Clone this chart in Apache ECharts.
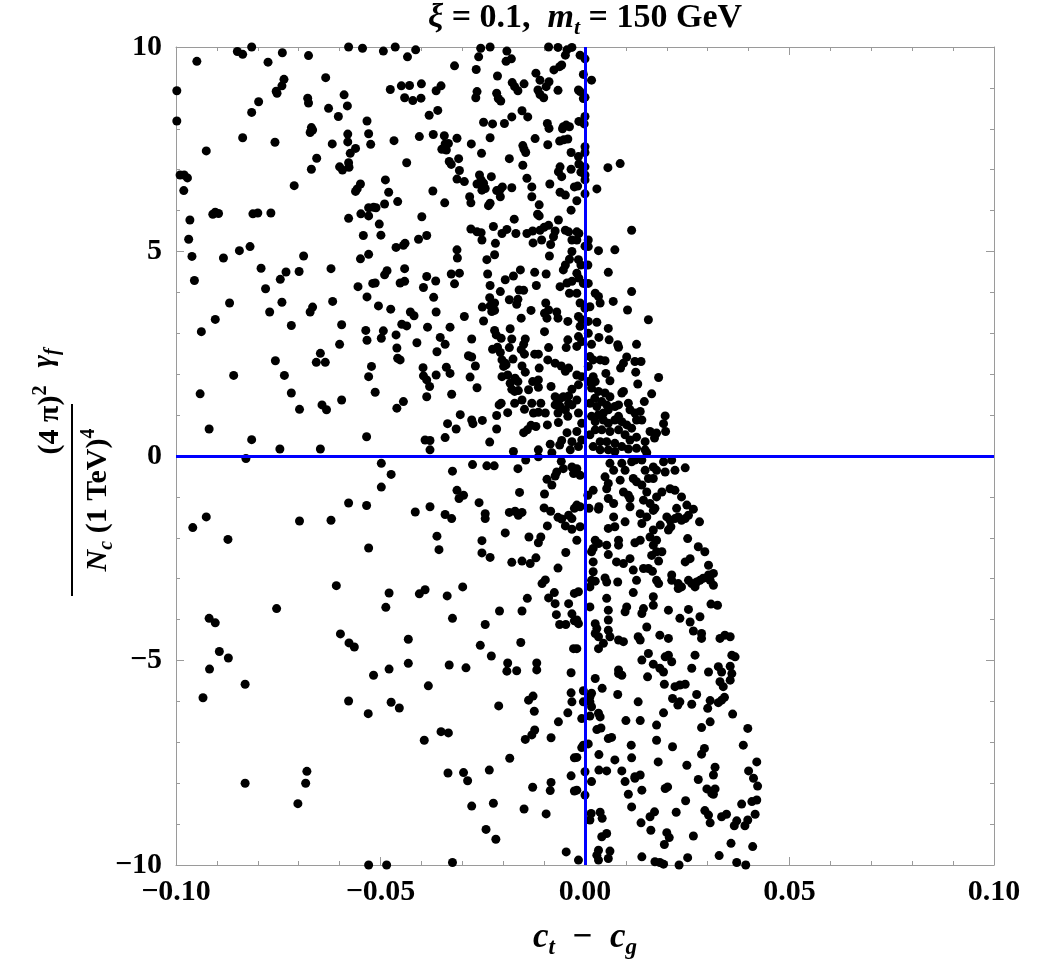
<!DOCTYPE html>
<html>
<head>
<meta charset="utf-8">
<script src="https://cdn.jsdelivr.net/npm/echarts@6/dist/echarts.min.js"></script>
<style>html,body{margin:0;padding:0;background:#fff}#chart{width:1042px;height:959px}</style>
</head>
<body>
<div id="chart"></div>
<script>
// x = c_t - c_g, y = (4 pi)^2/(N_c (1 TeV)^4) gamma_f
const xTicks = [-0.10, -0.05, 0.00, 0.05, 0.10];
const yTicks = [-10, -5, 0, 5, 10];

const pointsLeftTop = [[-0.0815,10.0],[-0.0850,9.89],[-0.0837,9.82],[-0.0740,9.86],[-0.0775,9.63],[-0.0949,9.65],[-0.0676,9.79],[-0.0578,10.0],[-0.0544,9.97],[-0.0998,8.93],[-0.0998,8.19],[-0.0736,9.21],[-0.0741,9.05],[-0.0755,8.92],[-0.0753,8.87],[-0.0798,8.66],[-0.0815,8.40],[-0.0678,8.75],[-0.0676,8.63],[-0.0634,9.25],[-0.0589,8.83],[-0.0581,8.56],[-0.0627,8.50],[-0.0603,8.30],[-0.0533,8.19],[-0.0529,7.88],[-0.0524,7.62],[-0.0669,8.03],[-0.0666,7.97],[-0.0672,7.91],[-0.0580,7.87],[-0.0580,7.68],[-0.0618,7.63],[-0.0561,7.52],[-0.0574,7.40],[-0.0578,7.17],[-0.0577,7.06],[-0.0600,7.07],[-0.0593,6.99],[-0.0656,7.28],[-0.0669,7.01],[-0.0837,7.78],[-0.0758,7.67],[-0.0926,7.46],[-0.0990,6.87],[-0.0980,6.87],[-0.0972,6.80],[-0.0981,6.49],[-0.0711,6.61],[-0.0549,6.65],[-0.0557,6.53],[-0.0561,6.47],[-0.0904,5.96],[-0.0896,5.93],[-0.0910,5.91],[-0.0966,5.77],[-0.0812,5.92],[-0.0800,5.94],[-0.0768,5.94],[-0.0578,5.81],[-0.0548,5.92],[-0.0529,6.07],[-0.0517,6.08],[-0.0529,5.87],[-0.0969,5.30],[-0.0819,5.12],[-0.0845,5.02],[-0.0542,5.39],
[-0.0961,4.88],[-0.0884,4.84],[-0.0955,4.29],[-0.0792,4.59],[-0.0731,4.50],[-0.0745,4.32],[-0.0699,4.51],[-0.0688,4.89],[-0.0621,4.58],[-0.0549,4.82],[-0.0529,4.93],[-0.0519,4.22],[-0.0555,4.14],[-0.0533,3.89],[-0.0781,4.09],[-0.0869,3.74],[-0.0741,3.76],[-0.0771,3.52],[-0.0666,3.64],[-0.0672,3.52],[-0.0617,3.78],[-0.0904,3.34],[-0.0938,3.04],[-0.0718,3.19],[-0.0595,3.21],[-0.0536,3.07],[-0.0533,2.83],[-0.0600,2.73],[-0.0647,2.51],[-0.0657,2.29],[-0.0635,2.29],[-0.0757,2.33],[-0.0522,2.19],[-0.0529,1.94],[-0.0859,1.97],[-0.0735,1.97],[-0.0941,1.52],[-0.0718,1.54],[-0.0595,1.37],[-0.0643,1.25],[-0.0632,1.13],[-0.0698,1.14],[-0.0919,0.66],[-0.0815,0.40],[-0.0534,0.47],[-0.0746,0.17],[-0.0647,0.17]];

const pointsLeftBottom = [[-0.0829,-0.06],[-0.0959,-1.75],[-0.0926,-1.49],[-0.0873,-2.04],[-0.0698,-1.59],[-0.0621,-1.57],[-0.0578,-1.15],[-0.0534,-1.21],[-0.0529,-2.25],[-0.0608,-3.17],[-0.0754,-3.73],[-0.0919,-3.97],[-0.0904,-4.08],[-0.0598,-4.35],[-0.0577,-4.57],[-0.0564,-4.67],[-0.0894,-4.78],[-0.0872,-4.94],
[-0.0918,-5.21],[-0.0934,-5.91],[-0.0831,-5.58],[-0.0517,-5.36],[-0.0578,-5.99],[-0.0530,-6.30],[-0.0831,-8.0],[-0.0680,-7.71],[-0.0683,-8.0],[-0.0702,-8.50],[-0.0529,-10.0]];

const pointsMidTop = [[-0.0493,9.90],[-0.0464,10.0],[-0.0434,9.76],[-0.0414,9.93],[-0.0319,9.54],[-0.0255,9.97],[-0.0232,10.0],[-0.0260,9.76],[-0.0266,9.45],[-0.0191,9.90],[-0.0180,9.71],[-0.0193,9.65],[-0.0089,10.0],[-0.0066,9.99],[-0.0044,9.93],[-0.0048,9.80],[-0.0032,9.99],[-0.0057,9.56],[-0.0062,9.52],[-0.0076,9.44],[-0.0120,9.36],[-0.0110,9.19],[-0.0088,9.15],[-0.0095,9.03],[-0.0115,8.95],[-0.0110,8.84],[-0.0101,8.76],[-0.0066,8.94],[-0.0214,9.29],[-0.0178,9.13],[-0.0172,9.03],[-0.0164,8.93],[-0.0149,9.10],[-0.0264,8.91],[-0.0267,8.76],[-0.0216,8.87],[-0.0212,8.74],[-0.0206,8.68],[-0.0476,8.96],[-0.0449,9.05],[-0.0429,9.06],[-0.0441,8.76],[-0.0421,8.69],[-0.0400,9.10],[-0.0401,8.75],[-0.0364,8.93],[-0.0352,9.05],[-0.0360,8.45],[-0.0381,8.33],[-0.0154,8.44],[-0.0140,8.29],[-0.0179,8.29],[-0.0248,8.16],[-0.0226,8.12],[-0.0197,8.13],[-0.0092,8.13],[-0.0088,8.01],[-0.0053,8.05],[-0.0046,8.09],[-0.0038,8.05],[-0.0055,8.00],[-0.0122,7.76],[-0.0062,7.70],[-0.0052,7.73],[-0.0042,7.75],[-0.0091,7.61],[-0.0034,7.42],[-0.0467,7.71],[-0.0405,7.81],[-0.0371,7.86],[-0.0344,7.83],[-0.0313,7.77],[-0.0342,7.63],[-0.0334,7.64],[-0.0350,7.50],[-0.0339,7.48],[-0.0342,7.55],[-0.0278,7.63],[-0.0232,7.78],[-0.0253,7.40],[-0.0309,7.27],[-0.0332,7.20],[-0.0327,7.13],[-0.0185,7.27],[-0.0152,7.59],[-0.0149,7.50],[-0.0145,7.42],[-0.0152,7.11],[-0.0436,7.17],[-0.0307,6.98],[-0.0313,6.77],[-0.0295,6.71],[-0.0258,6.87],[-0.0254,6.75],[-0.0264,6.65],[-0.0248,6.67],[-0.0252,6.50],[-0.0244,6.54],[-0.0229,6.83],[-0.0216,6.49],[-0.0207,6.52],[-0.0202,6.58],[-0.0207,6.34],[-0.0179,6.56],[-0.0142,6.79],[-0.0130,6.58],[-0.0086,6.65],[-0.0061,7.07],[-0.0065,6.95],[-0.0057,6.83],[-0.0034,7.01],[-0.0061,6.45],[-0.0048,6.38],[-0.0026,6.58],[-0.0488,6.75],[-0.0480,6.45],[-0.0490,6.16],[-0.0458,6.22],[-0.0511,6.07],[-0.0372,6.48],[-0.0343,6.19],[-0.0282,6.34],[-0.0279,6.19],[-0.0236,6.12],[-0.0232,6.18],[-0.0130,6.34],[-0.0112,6.14],[-0.0034,6.01],[-0.0116,5.91],[-0.0112,5.87],[-0.0399,5.85],[-0.0503,5.67],[-0.0499,5.40],[-0.0173,5.79],[-0.0224,5.61],[-0.0279,5.55],[-0.0264,5.48],[-0.0254,5.46],[-0.0252,5.28],[-0.0203,5.44],[-0.0191,5.54],[-0.0169,5.44],[-0.0142,5.44],[-0.0128,5.50],[-0.0110,5.52],[-0.0100,5.59],[-0.0089,5.64],[-0.0106,5.28],[-0.0065,5.77],[-0.0073,5.50],[-0.0077,5.36],[-0.0084,5.17],[-0.0048,5.52],[-0.0040,5.48],[-0.0032,5.28],[-0.0387,5.39],[-0.0407,5.30],[-0.0440,5.20],[-0.0444,5.15],[-0.0462,5.10],[-0.0219,5.20],[-0.0127,5.21],[-0.0313,5.04]];

const pointsMidUpper = [[-0.0312,4.84],[-0.0240,4.80],[-0.0221,4.92],[-0.0087,4.89],[-0.0032,5.00],[-0.0038,4.81],[-0.0048,4.67],[-0.0053,4.55],[-0.0484,4.53],[-0.0490,4.43],[-0.0441,4.58],[-0.0387,4.39],[-0.0365,4.28],[-0.0327,4.45],[-0.0307,4.47],[-0.0319,4.21],[-0.0238,4.45],[-0.0195,4.31],[-0.0175,4.40],[-0.0158,4.55],[-0.0123,4.49],[-0.0095,4.45],[-0.0232,4.17],[-0.0207,4.02],[-0.0161,4.06],[-0.0150,4.05],[-0.0119,4.17],[-0.0513,4.23],[-0.0452,4.23],[-0.0441,4.27],[-0.0395,4.12],[-0.0370,3.88],[-0.0061,4.14],[-0.0044,4.23],[-0.0032,4.27],[-0.0038,3.98],[-0.0233,3.87],[-0.0221,3.74],[-0.0232,3.67],[-0.0185,3.82],[-0.0164,3.83],[-0.0167,3.71],[-0.0096,3.74],[-0.0089,3.57],[-0.0099,3.49],[-0.0093,3.37],[-0.0069,3.52],[-0.0066,3.37],[-0.0042,3.29],[-0.0132,3.56],[-0.0251,3.64],[-0.0221,3.56],[-0.0228,3.53],[-0.0248,3.30],[-0.0505,3.67],[-0.0475,3.59],[-0.0427,3.52],[-0.0418,3.43],[-0.0364,3.52],[-0.0295,3.41],[-0.0156,3.37],[-0.0448,3.22],[-0.0436,3.18],[-0.0385,3.15],[-0.0330,3.15],[-0.0493,3.06],[-0.0498,2.88],[-0.0462,2.96],[-0.0411,2.77],[-0.0354,2.90],[-0.0342,2.73],[-0.0277,2.86],[-0.0221,3.07],[-0.0217,2.96],[-0.0205,2.88],[-0.0183,3.11],[-0.0179,2.86],[-0.0146,2.86],[-0.0150,2.73],[-0.0156,2.60],[-0.0099,3.04],[-0.0089,2.65],[-0.0042,2.84],[-0.0046,2.65],[-0.0460,2.64],[-0.0362,2.55],[-0.0226,2.61],[-0.0214,2.66],[-0.0207,2.53],[-0.0203,2.35],[-0.0195,2.27],[-0.0185,2.65],[-0.0176,2.37],[-0.0148,2.49],[-0.0123,2.49],[-0.0114,2.49],[-0.0091,2.35],[-0.0458,2.39],[-0.0452,2.35],[-0.0285,2.45],[-0.0277,2.42],[-0.0396,2.16],[-0.0339,2.17],[-0.0268,2.20],[-0.0199,2.19],[-0.0193,2.23],[-0.0154,2.20],[-0.0146,2.05],[-0.0112,2.15],[-0.0073,2.27],[-0.0058,2.20],[-0.0048,2.07],[-0.0040,2.15],[-0.0395,1.96],[-0.0387,1.86],[-0.0380,1.70],[-0.0387,1.45],[-0.0364,1.98],[-0.0330,2.02],[-0.0281,1.93],[-0.0264,1.67],[-0.0203,1.94],[-0.0189,1.98],[-0.0171,1.90],[-0.0164,1.82],[-0.0183,1.78],[-0.0179,1.63],[-0.0172,1.58],[-0.0163,1.60],[-0.0138,1.62],[-0.0128,1.82],[-0.0114,1.86],[-0.0114,1.68],[-0.0083,1.70],[-0.0073,1.45],[-0.0061,1.40],[-0.0053,1.45],[-0.0040,1.47],[-0.0032,1.63],[-0.0513,1.56],[-0.0326,1.51],[-0.0444,1.33],[-0.0460,1.17],[-0.0205,1.29],[-0.0210,1.25],[-0.0172,1.29],[-0.0154,1.37],[-0.0130,1.29],[-0.0108,1.29],[-0.0189,1.06],[-0.0148,1.14],[-0.0126,1.05],[-0.0114,1.07],[-0.0097,1.05],[-0.0073,1.25],[-0.0061,1.21],[-0.0066,1.05],[-0.0048,1.13],[-0.0040,1.29],[-0.0032,1.25],[-0.0042,0.97],[-0.0305,1.01],[-0.0216,0.99],[-0.0336,0.79],[-0.0315,0.66],[-0.0277,0.88],[-0.0274,0.79],[-0.0251,0.87],[-0.0216,0.66],[-0.0132,0.75],[-0.0120,0.72],[-0.0150,0.57],[-0.0141,0.64],[-0.0092,0.76],[-0.0065,0.82],[-0.0044,0.57],[-0.0032,0.35],[-0.0057,0.38],[-0.0085,0.29],[-0.0062,0.27],[-0.0391,0.39],[-0.0379,0.38],[-0.0379,0.15],[-0.0342,0.45],[-0.0233,0.34],[-0.0175,0.11],[-0.0114,0.15],[-0.0081,0.08],[-0.0036,0.15]];

const pointsMidBottom = [[-0.0498,-0.18],[-0.0474,-0.45],[-0.0498,-0.76],[-0.0324,-0.37],[-0.0275,-0.21],[-0.0240,-0.24],[-0.0222,-0.24],[-0.0164,-0.31],[-0.0145,-0.10],[-0.0114,-0.02],[-0.0058,-0.13],[-0.0053,-0.31],[-0.0069,-0.39],[-0.0073,-0.49],[-0.0032,-0.27],[-0.0028,-0.43],[-0.0093,-0.57],[-0.0081,-0.71],[-0.0313,-0.84],[-0.0297,-0.96],[-0.0308,-1.04],[-0.0160,-0.89],[-0.0099,-0.93],[-0.0259,-1.14],[-0.0415,-1.37],[-0.0379,-1.24],[-0.0342,-1.43],[-0.0326,-1.53],[-0.0244,-1.41],[-0.0244,-1.53],[-0.0185,-1.38],[-0.0171,-1.35],[-0.0163,-1.45],[-0.0154,-1.38],[-0.0100,-1.27],[-0.0084,-1.35],[-0.0066,-1.50],[-0.0057,-1.54],[-0.0040,-1.45],[-0.0032,-1.53],[-0.0026,-1.28],[-0.0048,-1.71],[-0.0032,-1.79],[-0.0092,-1.71],[-0.0362,-1.96],[-0.0357,-2.29],[-0.0195,-1.88],[-0.0252,-2.07],[-0.0137,-1.98],[-0.0108,-1.98],[-0.0114,-2.12],[-0.0252,-2.37],[-0.0232,-2.48],[-0.0179,-2.60],[-0.0154,-2.57],[-0.0134,-2.63],[-0.0120,-2.49],[-0.0047,-2.36],[-0.0066,-2.74],[-0.0105,-3.12],[-0.0097,-3.03],[-0.0479,-3.35],[-0.0487,-3.70],[-0.0405,-3.37],[-0.0391,-3.27],[-0.0337,-3.42],[-0.0299,-3.20],[-0.0141,-3.48],[-0.0075,-3.34],[-0.0089,-3.47],[-0.0073,-3.61],[-0.0040,-3.61],[-0.0026,-3.36],[-0.0209,-3.79],[-0.0154,-3.79],[-0.0070,-3.88],[-0.0032,-3.86],[-0.0026,-4.03],[-0.0324,-3.97],[-0.0244,-4.12],[-0.0062,-4.12],[-0.0047,-4.12],[-0.0432,-4.48],[-0.0256,-4.63],[-0.0157,-4.56],[-0.0229,-4.89],[-0.0028,-4.71],
[-0.0479,-5.21],[-0.0432,-5.07],[-0.0332,-5.11],[-0.0291,-5.18],[-0.0189,-5.06],[-0.0191,-5.26],[-0.0167,-5.25],[-0.0118,-5.06],[-0.0118,-5.23],[-0.0034,-5.30],[-0.0383,-5.62],[-0.0474,-6.02],[-0.0454,-6.16],[-0.0211,-6.11],[-0.0138,-5.97],[-0.0127,-5.87],[-0.0124,-6.24],[-0.0034,-5.79],[-0.0032,-6.01],[-0.0042,-6.28],[-0.0065,-6.50],[-0.0352,-6.74],[-0.0334,-6.77],[-0.0393,-6.95],[-0.0123,-6.70],[-0.0130,-6.82],[-0.0146,-6.93],[-0.0083,-6.89],[-0.0184,-7.39],[-0.0026,-7.38],[-0.0335,-7.75],[-0.0297,-7.74],[-0.0287,-7.94],[-0.0234,-7.68],[-0.0083,-7.98],[-0.0085,-8.18],[-0.0034,-7.82],[-0.0026,-8.19],[-0.0128,-8.10],[-0.0277,-8.56],[-0.0224,-8.49],[-0.0149,-8.63],[-0.0095,-8.75],[-0.0242,-9.13],[-0.0218,-9.37],[-0.0046,-9.68],[-0.0324,-9.94],[-0.0485,-10.0]];

const pointsRightTop = [[-0.0012,9.80],[0.0000,9.71],[-0.0004,9.33],[0.0016,9.19],[-0.0016,8.95],[-0.0012,8.91],[0.0000,8.77],[-0.0004,8.74],[0.0000,8.30],[-0.0015,8.18],[-0.0002,8.12],[0.0000,7.56],[0.0000,7.42],[-0.0016,7.32],[-0.0015,7.14],[0.0000,7.07],[-0.0010,6.94],[0.0000,6.87],[0.0000,6.75],[0.0056,7.05],[0.0086,7.15],[-0.0018,6.60],[0.0029,6.53],[0.0000,6.41],[-0.0020,6.24],[0.0114,5.52],[-0.0020,5.48],[-0.0015,5.44],[-0.0020,5.28],[0.0008,5.28],[0.0008,5.12],[0.0000,5.13],[0.0073,5.04],[0.0033,5.02],
[-0.0016,4.80],[-0.0010,4.67],[0.0007,4.67],[-0.0020,4.47],[-0.0015,4.35],[-0.0004,4.22],[0.0008,4.22],[-0.0020,3.98],[0.0057,4.49],[0.0114,4.02],[0.0025,3.98],[0.0033,3.90],[0.0037,3.74],[0.0069,3.78],[0.0104,3.57],[0.0155,3.33],[-0.0012,3.74],[0.0000,3.61],[0.0012,3.65],[-0.0016,3.41],[-0.0008,3.33],[0.0008,3.29],[-0.0012,3.17],[0.0029,3.27],[0.0057,3.12],[-0.0016,2.92],[-0.0008,2.80],[-0.0020,2.68],[0.0008,3.00],[0.0034,2.90],[0.0059,2.84],[0.0016,2.73],[0.0080,2.72],[0.0082,2.66],[0.0126,2.73],[0.0012,2.43],[0.0020,2.35],[0.0037,2.35],[0.0049,2.33],[0.0102,2.42],[0.0094,2.27],[0.0087,2.15],[0.0122,2.31],[0.0137,2.31],[0.0124,2.05],[0.0051,2.02],[0.0180,1.92],[0.0008,2.19],[0.0020,1.94],[0.0008,1.82],[0.0025,1.82],[-0.0008,1.94],[-0.0020,1.98],[-0.0016,1.74],[0.0061,1.84],[0.0129,1.76],[0.0016,1.66],[0.0033,1.58],[0.0049,1.54],[0.0061,1.45],[0.0024,1.41],[0.0041,1.33],[0.0053,1.25],[0.0012,1.29],[0.0029,1.21],[0.0090,1.54],[0.0094,1.58],[0.0163,1.52],[0.0106,1.29],[0.0145,1.33],[-0.0020,1.37],[-0.0016,1.05],[-0.0008,0.80],[-0.0020,0.60],[-0.0008,0.39],[-0.0016,0.23],[0.0073,1.21],[0.0082,1.25],[0.0057,1.13],[0.0045,1.05],[0.0033,1.01],[0.0110,1.13],[0.0122,1.05],[0.0135,1.09],[0.0126,0.88],[0.0139,0.88],[0.0196,0.98],[0.0192,0.79],[0.0197,0.60],[0.0082,0.97],[0.0073,0.88],[0.0090,0.84],[0.0057,0.80],[0.0045,0.88],[0.0025,0.84],[0.0016,0.97],[0.0102,0.76],[0.0114,0.68],[0.0082,0.64],[0.0061,0.60],[0.0041,0.64],[0.0025,0.64],[0.0012,0.52],[0.0159,0.60],[0.0175,0.56],[0.0170,0.44],[0.0147,0.35],[0.0126,0.46],[0.0098,0.52],[0.0110,0.39],[0.0053,0.35],[0.0037,0.35],[0.0073,0.31],[0.0090,0.23],[0.0057,0.15],[0.0037,0.15],[0.0020,0.23],[0.0106,0.17],[0.0126,0.19],[0.0147,0.15],[0.0073,0.11],[0.0151,0.08]];

const pointsRightUpperNeg = [[-0.0020,-0.31],[-0.0012,-0.47],[-0.0020,-1.20],[-0.0012,-1.24],[-0.0012,-1.73],[-0.0020,-2.06],[-0.0016,-3.32],[-0.0020,-4.01],[-0.0016,-4.10],[-0.0020,-4.71],[0.0007,-0.96],[0.0010,-1.28],[0.0020,-0.84],[0.0034,-1.24],[0.0033,-1.30],[0.0061,-0.18],[0.0070,-0.35],[0.0090,-0.18],[0.0098,-0.35],[0.0114,-0.14],[0.0122,-0.10],[0.0139,-0.10],[0.0147,-0.35],[0.0167,-0.27],[0.0175,-0.35],[0.0192,-0.14],[0.0196,-0.39],[0.0212,-0.10],[0.0220,-0.35],[0.0245,-0.29],[0.0049,-0.51],[0.0057,-0.67],[0.0053,-0.80],[0.0086,-0.59],[0.0118,-0.55],[0.0126,-0.63],[0.0139,-0.71],[0.0155,-0.55],[0.0167,-0.55],[0.0094,-0.88],[0.0106,-0.96],[0.0110,-1.04],[0.0110,-1.24],[0.0151,-0.88],[0.0188,-0.88],[0.0208,-0.80],[0.0220,-0.84],[0.0236,-1.00],[0.0057,-1.04],[0.0070,-1.16],[0.0143,-1.08],[0.0159,-1.16],[0.0167,-1.33],[0.0171,-1.28],[0.0175,-1.00],[0.0135,-1.41],[0.0151,-1.49],[0.0139,-1.65],[0.0224,-1.28],[0.0249,-1.20],[0.0265,-1.30],[0.0070,-1.49],[0.0073,-1.73],[0.0098,-1.61],[0.0057,-1.77],[0.0184,-1.69],[0.0200,-1.49],[0.0208,-1.57],[0.0220,-1.53],[0.0228,-1.49],[0.0236,-1.57],[0.0245,-1.53],[0.0253,-1.45],[0.0280,-1.61],[0.0204,-1.81],[0.0210,-1.73],[0.0167,-1.81],[0.0159,-1.98],[0.0175,-2.06],[0.0167,-2.18],[0.0025,-2.06],[0.0033,-2.14],[0.0053,-2.18],[0.0020,-2.26],[0.0016,-2.34],[0.0082,-2.06],[0.0082,-2.18],[0.0122,-2.12],[0.0135,-2.06],[0.0251,-2.02],[0.0057,-2.41],[0.0163,-2.43],[0.0175,-2.34],[0.0188,-2.34],[0.0277,-2.22],[0.0293,-2.34],[0.0110,-2.51],[0.0077,-2.59],[0.0094,-2.63],[0.0020,-2.59],[0.0180,-2.57],[0.0245,-2.59],[0.0257,-2.51],[0.0302,-2.67],[0.0118,-2.79],[0.0143,-2.75],[0.0155,-2.75],[0.0165,-2.82],[0.0020,-2.83],[0.0016,-3.04],[0.0012,-3.20],[0.0025,-3.06],[0.0049,-2.98],[0.0053,-3.08],[0.0080,-3.08],[0.0126,-3.04],[0.0175,-3.04],[0.0180,-3.12],[0.0212,-2.91],[0.0212,-3.04],[0.0228,-3.12],[0.0228,-3.24],[0.0236,-3.20],[0.0253,-3.04],[0.0261,-3.12],[0.0269,-3.20],[0.0273,-3.08],[0.0281,-3.04],[0.0289,-2.99],[0.0302,-2.91],[0.0314,-2.87],[0.0314,-3.16],[0.0306,-3.04],[0.0118,-3.34],[0.0167,-3.44],[0.0053,-3.48],[0.0057,-3.77],[0.0057,-4.01],[0.0057,-4.26],[0.0061,-4.42],[0.0102,-3.69],[0.0098,-3.81],[0.0143,-3.73],[0.0139,-3.85],[0.0167,-3.65],[0.0204,-3.77],[0.0253,-3.75],[0.0308,-3.62],[0.0324,-3.65],[0.0232,-3.97],[0.0257,-4.06],[0.0281,-3.93],[0.0265,-4.28],[0.0012,-3.69],[0.0025,-4.10],[0.0029,-4.22],[0.0025,-4.34],[0.0033,-4.42],[0.0151,-4.18],[0.0130,-4.42],[0.0135,-4.50],[0.0183,-4.38],[0.0204,-4.46],[0.0082,-4.50],[0.0094,-4.54],[0.0285,-4.34],[0.0285,-4.46],[0.0330,-4.46],[0.0342,-4.38],[0.0355,-4.42],[0.0033,-4.71],[0.0045,-4.58],[0.0155,-4.83],[0.0196,-4.91],[0.0204,-4.87],[0.0269,-4.87],[0.0359,-4.87],[0.0367,-4.91]];

const pointsRightLowerNeg = [[0.0082,-5.23],[0.0090,-5.36],[0.0082,-5.32],[0.0025,-5.44],[0.0042,-5.68],[-0.0004,-5.74],[0.0016,-5.80],[0.0012,-5.89],[-0.0004,-6.01],[0.0012,-6.01],[0.0016,-6.13],[0.0033,-6.29],[0.0037,-6.38],[-0.0008,-6.42],[0.0012,-6.36],[0.0080,-5.83],[0.0139,-4.99],[0.0167,-5.09],[0.0183,-5.19],[0.0192,-5.28],[0.0212,-5.03],[0.0153,-5.40],[0.0194,-5.58],[0.0220,-5.64],[0.0232,-5.60],[0.0245,-5.58],[0.0261,-5.19],[0.0302,-5.28],[0.0326,-5.15],[0.0334,-5.28],[0.0355,-5.14],[0.0359,-5.32],[0.0330,-5.52],[0.0355,-5.48],[0.0338,-5.64],[0.0130,-6.01],[0.0214,-5.93],[0.0232,-6.01],[0.0227,-6.09],[0.0261,-6.07],[0.0273,-5.83],[0.0306,-5.98],[0.0300,-6.17],[0.0326,-6.03],[0.0334,-5.97],[0.0341,-5.90],[0.0192,-6.28],[0.0361,-6.31],[0.0100,-6.47],[0.0135,-6.47],[0.0175,-6.58],[0.0285,-6.64],[0.0306,-6.50],[0.0398,-6.66],[0.0029,-6.69],[0.0039,-6.65],[0.0057,-6.91],[0.0065,-6.88],[0.0175,-6.95],[0.0113,-7.07],[0.0114,-7.38],[-0.0004,-7.07],[0.0008,-7.04],[-0.0008,-7.13],[0.0034,-7.30],[-0.0020,-7.37],[0.0073,-7.43],[0.0090,-7.70],[0.0179,-7.48],[0.0214,-7.11],[0.0292,-7.15],[0.0285,-7.29],[0.0387,-7.07],[0.0420,-7.48],[0.0249,-7.56],[0.0318,-7.61],[0.0314,-7.80],[0.0400,-7.70],[0.0412,-7.88],[0.0422,-8.07],[0.0034,-7.68],[0.0053,-7.70],[0.0000,-7.72],[0.0122,-7.84],[0.0135,-7.80],[0.0098,-7.96],[0.0122,-7.88],[0.0016,-7.96],[0.0277,-7.91],[0.0196,-8.13],[0.0202,-8.09],[0.0139,-8.17],[-0.0020,-8.17],[0.0000,-8.29],[0.0106,-8.27],[0.0298,-8.14],[0.0318,-8.14],[0.0310,-8.25],[0.0314,-8.27],[0.0114,-8.58],[0.0246,-8.43],[0.0408,-8.45],[0.0420,-8.41],[0.0383,-8.51],[0.0015,-8.74],[0.0012,-8.90],[0.0037,-8.71],[0.0042,-8.86],[0.0170,-8.70],[0.0159,-8.82],[0.0223,-8.71],[0.0293,-8.67],[0.0302,-8.78],[0.0306,-8.97],[0.0334,-8.82],[0.0346,-8.76],[0.0416,-8.76],[0.0398,-8.90],[0.0371,-8.92],[0.0365,-9.04],[0.0391,-9.04],[0.0137,-8.97],[0.0161,-9.15],[0.0041,-9.31],[0.0053,-9.23],[0.0200,-9.21],[0.0206,-9.33],[0.0194,-9.50],[0.0265,-9.29],[0.0357,-9.47],[0.0410,-9.55],[0.0033,-9.64],[0.0029,-9.76],[0.0061,-9.66],[0.0057,-9.84],[-0.0016,-9.88],[0.0033,-9.88],[0.0139,-9.80],[0.0171,-9.92],[0.0183,-9.94],[0.0192,-9.98],[0.0230,-10.0],[0.0251,-9.82],[0.0328,-9.77],[0.0371,-9.94],[0.0393,-10.0]];

const allPoints = [].concat(pointsLeftTop, pointsLeftBottom, pointsMidTop, pointsMidUpper, pointsMidBottom, pointsRightTop, pointsRightUpperNeg, pointsRightLowerNeg);

const SERIF = "'Liberation Serif','DejaVu Serif',serif";
const minus = s => String(s).replace('-', '\u2212');
const fmtX = v => minus(v.toFixed(2));
const fmtY = v => minus(String(Math.round(v)));

const chart = echarts.init(document.getElementById('chart'), null, {renderer: 'canvas'});

const axisCommon = {
  axisLine: {show: true, onZero: false, lineStyle: {color: '#9a9a9a', width: 1}},
  axisTick: {show: true, inside: true, length: 8, lineStyle: {color: '#9a9a9a', width: 1}},
  minorTick: {show: true, splitNumber: 5, length: 4, lineStyle: {color: '#9a9a9a', width: 1}},
  splitLine: {show: false},
  minorSplitLine: {show: false}
};
const labelStyle = {color: '#000', fontFamily: SERIF, fontWeight: 'bold', fontSize: 30};

function richSet(size) {
  const sub = Math.round(size * 0.65);
  return {
    i: {fontFamily: SERIF, fontWeight: 'bold', fontStyle: 'italic', fontSize: size, lineHeight: size + 8},
    n: {fontFamily: SERIF, fontWeight: 'bold', fontSize: size, lineHeight: size + 8},
    s: {fontFamily: SERIF, fontWeight: 'bold', fontStyle: 'italic', fontSize: sub, lineHeight: sub, verticalAlign: 'bottom'},
    p: {fontFamily: SERIF, fontWeight: 'bold', fontSize: sub, lineHeight: sub, verticalAlign: 'top'}
  };
}

const option = {
  animation: false,
  backgroundColor: '#fff',
  grid: {left: 176, right: 48, top: 47, bottom: 94, containLabel: false},
  xAxis: [
    Object.assign({type: 'value', position: 'bottom', min: xTicks[0], max: xTicks[xTicks.length-1], interval: 0.05,
      axisLabel: Object.assign({formatter: fmtX, margin: 12}, labelStyle)}, axisCommon),
    Object.assign({type: 'value', position: 'top', min: xTicks[0], max: xTicks[xTicks.length-1], interval: 0.05,
      axisLabel: {show: false}}, axisCommon)
  ],
  yAxis: [
    Object.assign({type: 'value', position: 'left', min: yTicks[0], max: yTicks[yTicks.length-1], interval: 5,
      axisLabel: Object.assign({formatter: fmtY, margin: 14}, labelStyle)}, axisCommon),
    Object.assign({type: 'value', position: 'right', min: yTicks[0], max: yTicks[yTicks.length-1], interval: 5,
      axisLabel: {show: false}}, axisCommon)
  ],
  series: [{
    type: 'scatter',
    xAxisIndex: 0, yAxisIndex: 0,
    data: allPoints,
    symbol: 'circle',
    symbolSize: 9,
    itemStyle: {color: '#000', opacity: 1},
    clip: false,
    markLine: {
      silent: true,
      symbol: ['none', 'none'],
      label: {show: false},
      lineStyle: {color: '#0000ff', width: 3, type: 'solid', opacity: 1},
      data: [{xAxis: 0}, {yAxis: 0}],
      z: 10
    }
  }],
  graphic: [
    {
      type: 'text', x: 585, y: 18,
      style: {
        text: '{i|ξ}{n| = 0.1,  }{i|m}{s|t}{n| = 150 GeV}',
        textAlign: 'center', textVerticalAlign: 'middle',
        font: 'bold 34px ' + SERIF, fill: '#000',
        rich: richSet(34)
      }
    },
    {
      type: 'text', x: 585, y: 938,
      style: {
        text: '{i|c}{s|t}{n|\u2002−\u2002}{i|c}{s|g}',
        textAlign: 'center', textVerticalAlign: 'middle',
        font: 'bold 35px ' + SERIF, fill: '#000',
        rich: richSet(35)
      }
    },
    {
      type: 'group', x: 72, y: 500, rotation: Math.PI / 2,
      children: [
        {type: 'text', x: 80, y: -22, style: {
          text: '{n|(4 π)}{p|2}', textAlign: 'center', textVerticalAlign: 'middle',
          font: 'bold 30px ' + SERIF, fill: '#000', rich: richSet(30)}},
        {type: 'line', shape: {x1: -96, y1: 0, x2: 96, y2: 0}, style: {stroke: '#000', lineWidth: 2}},
        {type: 'text', x: 0, y: 26, style: {
          text: '{i|N}{s|c}{n| (1 TeV)}{p|4}', textAlign: 'center', textVerticalAlign: 'middle',
          font: 'bold 30px ' + SERIF, fill: '#000', rich: richSet(30)}},
        {type: 'text', x: 142, y: -28, style: {
          text: '{i|γ}{s|f}', textAlign: 'center', textVerticalAlign: 'middle',
          font: 'bold 30px ' + SERIF, fill: '#000', rich: richSet(30)}}
      ]
    }
  ]
};
chart.setOption(option);
</script>
</body>
</html>
